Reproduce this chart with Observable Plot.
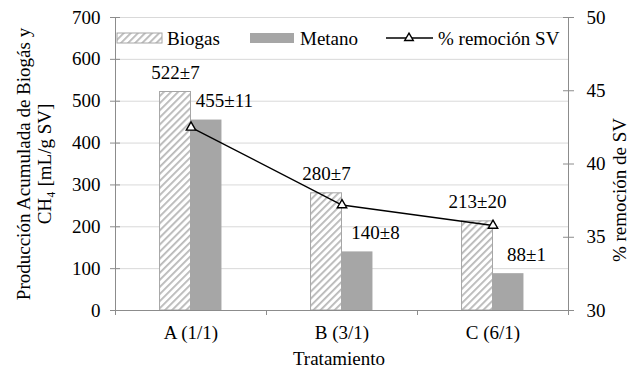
<!DOCTYPE html>
<html><head><meta charset="utf-8">
<script src="https://cdn.jsdelivr.net/npm/d3@7"></script>
<script src="https://cdn.jsdelivr.net/npm/@observablehq/plot@0.6"></script>
<style>
body{margin:0;background:#fff;}
#chart{width:635px;height:370px;}
#chart svg, #chart svg text{font-family:"Liberation Serif", "Times New Roman", serif !important;font-size:19px;}
</style>
</head><body><div id="chart"></div>
<script>
const categories = ["A (1/1)", "B (3/1)", "C (6/1)"];
const biogas = [522, 280, 213];
const biogasSd = [7, 7, 20];
const metano = [455, 140, 88];
const metanoSd = [11, 8, 1];
const remocion = [42.5, 37.2, 35.8];
const leftTicks = [0, 100, 200, 300, 400, 500, 600, 700];
const rightTicks = [30, 35, 40, 45, 50];

const RMIN = 30, K = 700 / 20; // right axis mapping to left domain
const toLeft = p => (p - RMIN) * K;
const W = 0.205; // bar width in category units

const rows = categories.map((c, i) => ({
  i, c, biogas: biogas[i], metano: metano[i],
  bl: `${biogas[i]}±${biogasSd[i]}`, ml: `${metano[i]}±${metanoSd[i]}`,
  r: toLeft(remocion[i])
}));

const axisCol = "#8c8c8c";
const plot = Plot.plot({
  width: 635, height: 370,
  marginLeft: 115, marginRight: 67, marginTop: 17, marginBottom: 60,
  style: {fontSize: "19px", background: "#fff", color: "#000"},
  x: {domain: [0, 3], axis: null},
  y: {domain: [0, 700], axis: null},
  marks: [
    Plot.gridY(leftTicks.filter(d => d > 0), {stroke: "#d9d9d9", strokeOpacity: 1}),
    Plot.rectY(rows, {x1: d => d.i + 0.5 - W, x2: d => d.i + 0.5, y1: 0, y2: "biogas", fill: "url(#hatch)", stroke: "#a6a6a6", strokeWidth: 1}),
    Plot.rectY(rows, {x1: d => d.i + 0.5, x2: d => d.i + 0.5 + W, y1: 0, y2: "metano", fill: "#a6a6a6"}),
    Plot.ruleY([0], {stroke: axisCol}),
    Plot.ruleX([0, 3], {stroke: axisCol}),
    Plot.axisY({ticks: leftTicks, tickSize: 5, tickPadding: 10, stroke: axisCol, fill: "#000", label: null}),
    Plot.ruleY(leftTicks, {stroke: axisCol, insetRight: 448}),
    Plot.axisY({anchor: "right", ticks: rightTicks.map(toLeft), tickFormat: v => Math.round(v / K + RMIN), tickSize: 5, tickPadding: 13, stroke: axisCol, fill: "#000", label: null}),
    Plot.ruleY(rightTicks.map(toLeft), {stroke: axisCol, insetLeft: 448}),
    Plot.axisX({ticks: [0, 1, 2, 3], tickFormat: () => "", tickSize: 5, stroke: axisCol, label: null}),
    Plot.text(rows, {x: d => d.i + 0.5, text: "c", frameAnchor: "bottom", dy: 22, lineAnchor: "middle"}),
    Plot.text(rows, {x: d => d.i + 0.5 - W / 2, y: "biogas", text: "bl", dy: -19, lineAnchor: "middle"}),
    Plot.text(rows, {x: d => d.i + 0.5 + W / 2, y: "metano", text: "ml", dy: -19, dx: 18, lineAnchor: "middle"}),
    Plot.line(rows, {x: d => d.i + 0.5, y: "r", stroke: "#000", strokeWidth: 1.4}),
    Plot.dot(rows, {x: d => d.i + 0.5, y: "r", symbol: "triangle", r: 3.5, stroke: "#000", strokeWidth: 1.4, fill: "#fff"}),
    Plot.text(["Tratamiento"], {frameAnchor: "bottom", dy: 48, lineAnchor: "middle", dx: -3, text: d => d}),
    Plot.text(["Producción Acumulada de Biogás y\nCH₄ [mL/g SV]"], {frameAnchor: "left", textAnchor: "middle", dx: -82, rotate: -90, lineAnchor: "middle", lineHeight: 1.1, text: d => d}),
    Plot.text(["% remoción de SV"], {frameAnchor: "right", textAnchor: "middle", dx: 51, dy: 26, rotate: -90, lineAnchor: "middle", text: d => d})
  ]
});

const svg = d3.select(plot);
const defs = svg.insert("defs", ":first-child");
const pat = defs.append("pattern").attr("id", "hatch").attr("patternUnits", "userSpaceOnUse")
  .attr("width", 5).attr("height", 5).attr("patternTransform", "rotate(45)");
pat.append("rect").attr("width", 5).attr("height", 5).attr("fill", "#fff");
pat.append("rect").attr("width", 1.8).attr("height", 5).attr("fill", "#b8b8b8");

// legend
const lg = svg.append("g").attr("text-anchor", "start");
lg.append("rect").attr("x", 117).attr("y", 33).attr("width", 45).attr("height", 10).attr("fill", "url(#hatch)").attr("stroke", "#a6a6a6");
lg.append("text").attr("x", 167).attr("y", 45).text("Biogas");
lg.append("rect").attr("x", 250).attr("y", 33).attr("width", 44).attr("height", 10).attr("fill", "#a6a6a6");
lg.append("text").attr("x", 300).attr("y", 45).text("Metano");
lg.append("line").attr("x1", 386).attr("x2", 433).attr("y1", 38).attr("y2", 38).attr("stroke", "#000").attr("stroke-width", 1.4);
lg.append("path").attr("d", d3.symbol(d3.symbolTriangle, 32)()).attr("transform", "translate(409,38)").attr("fill", "#fff").attr("stroke", "#000").attr("stroke-width", 1.4);
lg.append("text").attr("x", 438).attr("y", 45).text("% remoción SV");

document.getElementById("chart").appendChild(plot);
</script>
</body></html>
